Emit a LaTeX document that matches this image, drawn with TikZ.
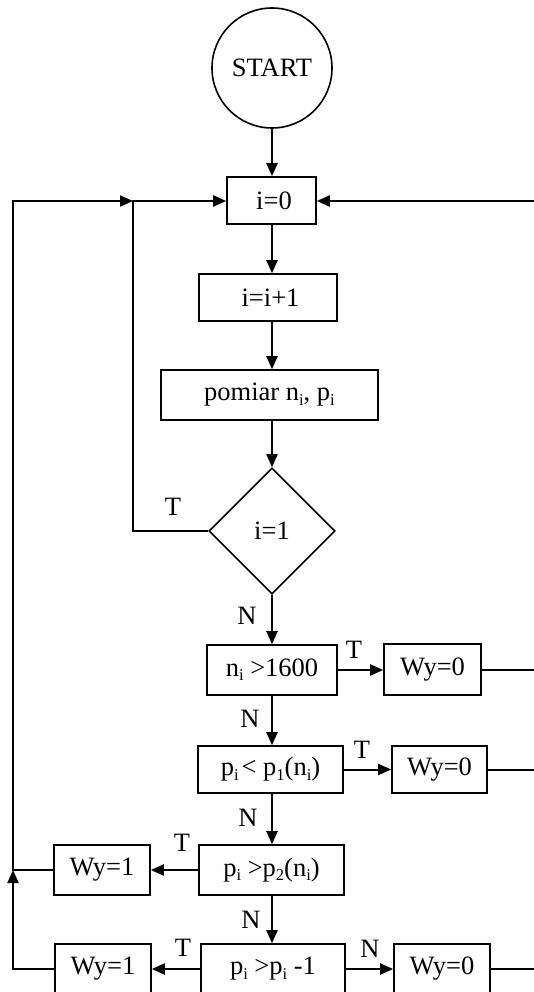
\documentclass[tikz,border=0pt]{standalone}
\usepackage{fontspec}
\setmainfont{Liberation Serif}
\usetikzlibrary{arrows.meta,shapes.geometric}
% small lowered index, as in the printed formulas
\newcommand{\ix}[1]{\raisebox{-0.16em}{\fontsize{16.5}{16.5}\selectfont #1}}

\begin{document}
\begin{tikzpicture}[x=1pt,y=-1pt,
  every node/.style={font=\fontsize{26.5}{30}\selectfont},
  box/.style={draw,line width=1.6pt,rectangle,inner sep=0pt},
  dec/.style={draw,line width=1.6pt,diamond,aspect=1,inner sep=0pt,minimum size=126pt},
  term/.style={draw,line width=1.6pt,circle,inner sep=0pt,minimum size=120pt},
  flow/.style={line width=2pt,-{Triangle[length=13pt,width=11pt]}},
  link/.style={line width=2pt},
  lbl/.style={inner sep=0pt}]
\useasboundingbox (0,0) rectangle (534,992);

% column through the main chain
\coordinate (col) at (272,0);

% start and initialisation
\node[term] (start) at (272,68) {START};
\node[box,minimum width=89pt,minimum height=47pt] (i0) at (271.5,200.5) {\hspace*{5pt}i=0};
\node[box,minimum width=138pt,minimum height=47pt] (inc) at (268,297.5) {\hspace*{5pt}i=i+1};
\node[box,minimum width=217pt,minimum height=50pt] (pom) at (269.5,395) {pomiar n\ix{i}, p\ix{i}};
\node[dec] (dia) at (272,531) {i=1};

% tests
\node[box,minimum width=130pt,minimum height=50pt] (b1) at (272,670) {n\ix{i} >1600};
\node[box,minimum width=145pt,minimum height=47pt] (b2) at (270.5,769.5) {p\ix{i}\hspace{3pt}< p\ix{1}(n\ix{i})};
\node[box,minimum width=145pt,minimum height=50pt] (b3) at (271.5,870) {p\ix{i} >p\ix{2}(n\ix{i})};
\node[box,minimum width=144pt,minimum height=50pt] (b4) at (273,969) {p\ix{i} >p\ix{i} -1};

% outputs
\node[box,minimum width=97pt,minimum height=51pt] (w01) at (432.5,669.5) {Wy=0};
\node[box,minimum width=95pt,minimum height=47pt] (w02) at (439.5,769.5) {Wy=0};
\node[box,minimum width=96pt,minimum height=50pt] (w03) at (442,969) {Wy=0};
\node[box,minimum width=96pt,minimum height=50pt] (w11) at (102,870) {Wy=1};
\node[box,minimum width=96pt,minimum height=50pt] (w12) at (103,969) {Wy=1};

% auxiliary points of the return lines
\coordinate (rin) at (540,201);
\coordinate (loopL) at (133,201);
\coordinate (outerTop) at (13,201);
\coordinate (outerMid) at (13,870);
\coordinate (outerBot) at (13,969);
\coordinate (r1) at (540,669.5);
\coordinate (r2) at (540,769.5);
\coordinate (r3) at (540,969);

% main chain
\draw[flow] (start.south) -- (col |- i0.north);
\draw[flow] (col |- i0.south) -- (col |- inc.north);
\draw[flow] (col |- inc.south) -- (col |- pom.north);
\draw[flow] (col |- pom.south) -- (dia.north);
\draw[flow] (dia.south) -- (col |- b1.north);
\draw[flow] (col |- b1.south) -- (col |- b2.north);
\draw[flow] (col |- b2.south) -- (col |- b3.north);
\draw[flow] (col |- b3.south) -- (col |- b4.north);

% branches
\draw[flow] (b1.east) -- (b1.east -| w01.west);
\draw[flow] (b2.east) -- (b2.east -| w02.west);
\draw[flow] (b3.west) -- (b3.west -| w11.east);
\draw[flow] (b4.west) -- (b4.west -| w12.east);
\draw[flow] (b4.east) -- (b4.east -| w03.west);

% lines leaving to the right
\draw[link] (w01.east) -- (r1);
\draw[link] (w02.east) -- (r2);
\draw[link] (w03.east) -- (r3);
\draw[flow] (rin) -- (i0.east |- rin);

% return loops
\draw[flow] (dia.west) -| (loopL) -- (i0.west |- loopL);
\draw[flow] (w12.west |- outerBot) -- (outerBot) -- (outerMid);
\draw[flow] (w11.west) -- (outerMid) -- (outerTop) -- (loopL);

% branch labels
\node[lbl] (t0) at (173,507) {T};
\node[lbl] (n0) at (247,616) {N};
\node[lbl] (t1) at (354,650) {T};
\node[lbl] (n1) at (250,719) {N};
\node[lbl] (t2) at (362,750) {T};
\node[lbl] (n2) at (248,818) {N};
\node[lbl] (t3) at (182,843) {T};
\node[lbl] (n3) at (251,920) {N};
\node[lbl] (t4) at (183,948) {T};
\node[lbl] (n4) at (370,949) {N};
\end{tikzpicture}
\end{document}
